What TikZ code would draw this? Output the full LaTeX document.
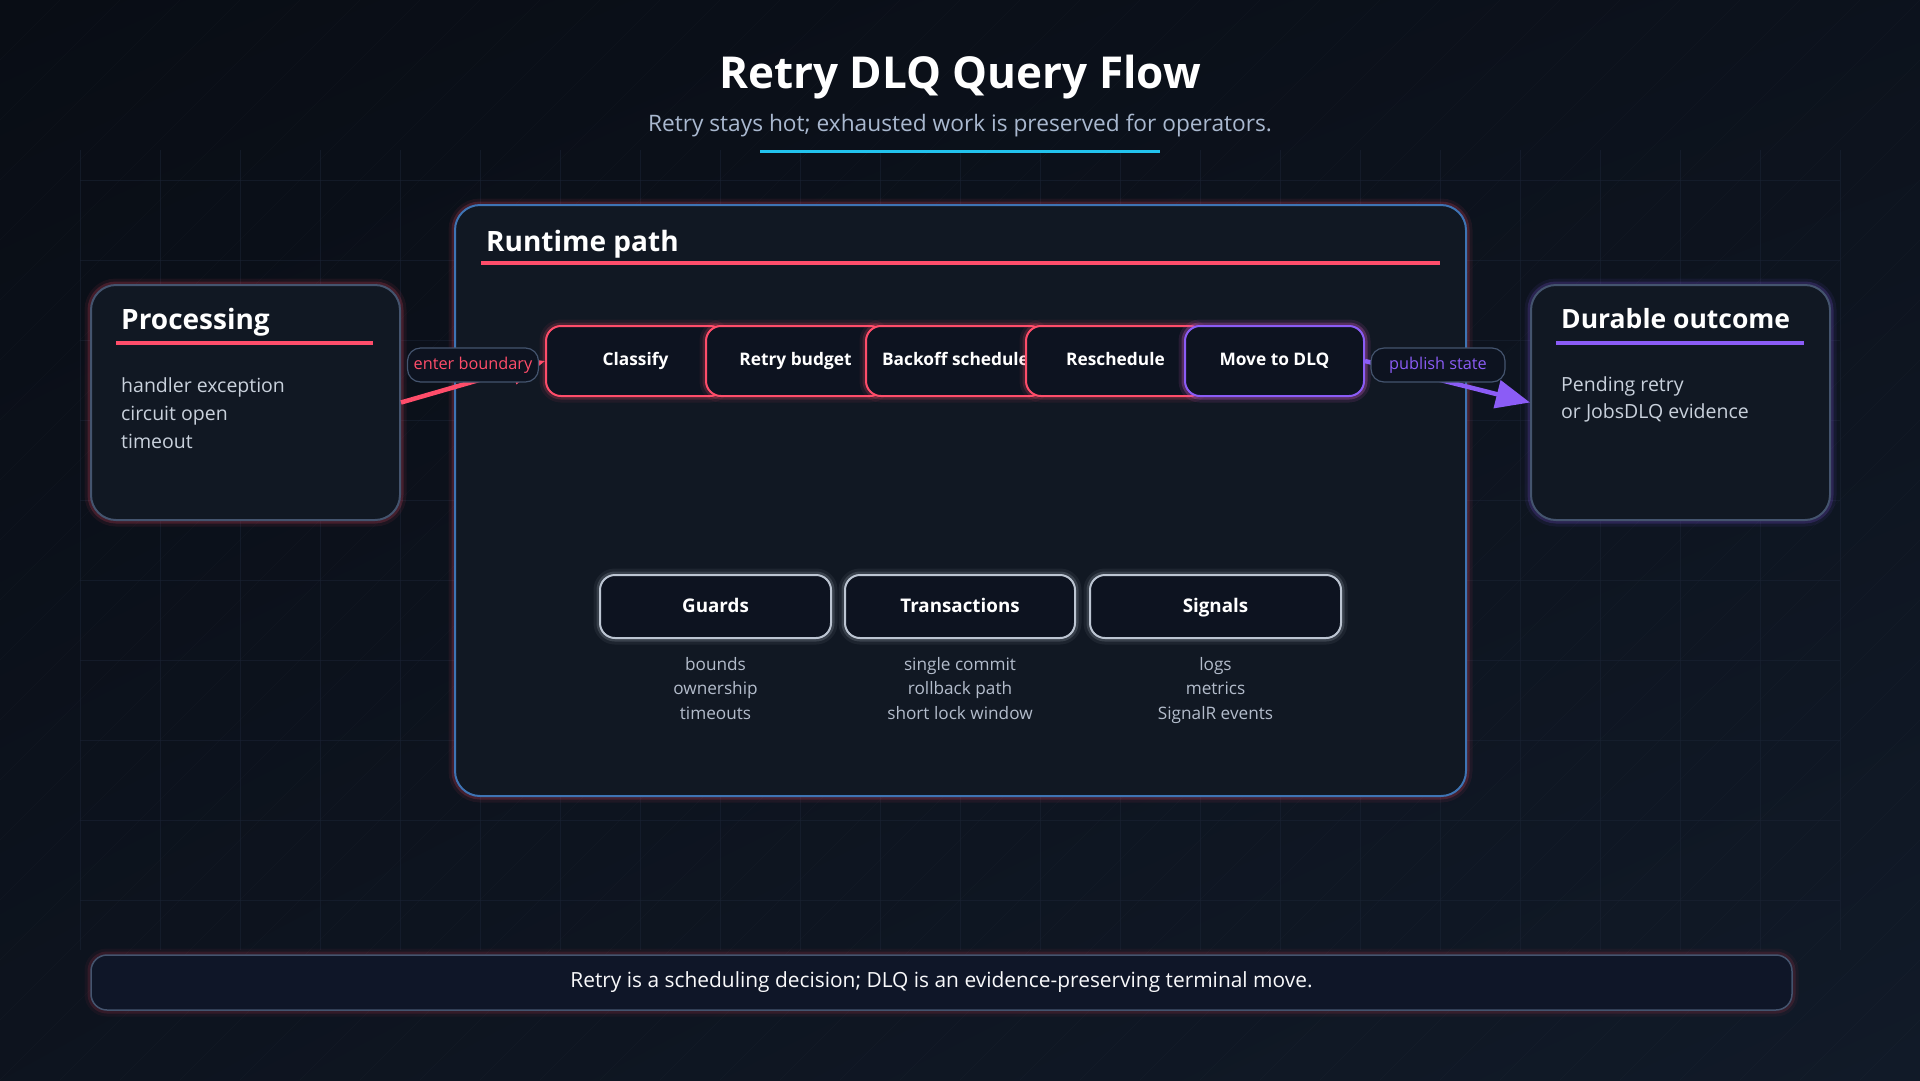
\documentclass[tikz,border=0pt]{standalone}
\usepackage{fontspec}
\setmainfont{Open Sans}
\usetikzlibrary{arrows.meta,positioning,shadings}
\definecolor{bgA}{HTML}{090D15}
\definecolor{bgB}{HTML}{111A28}
\definecolor{panelfill}{HTML}{111823}
\definecolor{cardfill}{HTML}{0D1320}
\definecolor{footfill}{HTML}{0F1628}
\definecolor{hotred}{HTML}{FF4D6A}
\definecolor{dlqpurple}{HTML}{8B5CF6}
\definecolor{cyanline}{HTML}{22C3EE}
\definecolor{slate}{HTML}{44546E}
\definecolor{paneledge}{HTML}{3E74B4}
\definecolor{guardedge}{HTML}{BCC5D2}
\definecolor{bodytext}{HTML}{C9D1DC}
\definecolor{subtext}{HTML}{A9B8CF}
\definecolor{itemtext}{HTML}{B3BCCB}
\definecolor{gridcol}{HTML}{1B2435}
\def\bgrect{(0,0) rectangle (1920,1080)}
\def\fsz#1{\fontsize{#1}{#1}\selectfont}

\begin{document}
\begin{tikzpicture}[x=1pt, y=-1pt,
    glow/.style={preaction={draw=#1, line width=13pt, draw opacity=0.07},
                 preaction={draw=#1, line width=7pt, draw opacity=0.18}},
    cardbox/.style={draw=slate, line width=2pt, fill=panelfill, rounded corners=25pt,
                    minimum width=#1, minimum height=235pt},
    cardtitle/.style={anchor=west, inner sep=0pt, text=white, font=\fsz{28}\bfseries},
    cardbody/.style={anchor=north west, inner sep=0pt, align=left, text=bodytext,
                     font=\fontsize{19.5}{28}\selectfont},
    stagebox/.style={draw=hotred, line width=2pt, fill=cardfill, rounded corners=15pt,
                     minimum width=179pt, minimum height=70pt, text=white,
                     text height=13pt, text depth=3.5pt,
                     font=\fsz{17.3}\bfseries, glow=hotred},
    guardbox/.style={draw=guardedge, line width=2pt, fill=cardfill, rounded corners=15pt,
                     minimum width=#1, minimum height=63pt, text=white,
                     text height=14pt, text depth=3pt,
                     font=\fsz{18.8}\bfseries, glow=guardedge},
    itemlist/.style={align=center, text=itemtext, inner sep=0pt,
                     font=\fontsize{17.2}{24.5}\selectfont},
    pill/.style={draw=slate, line width=1.2pt, fill=cardfill, rounded corners=13pt,
                 minimum height=34pt, inner xsep=4pt, font=\fsz{16.3}},
    underline/.style={line width=4pt, #1},
    flowarrow/.style={line width=4.5pt, #1, -{Triangle[length=34pt, width=28pt]}}]

  % background, grid and faint stripes
  \shade[upper left=bgA, upper right=bgA!60!bgB, lower left=bgA!50!bgB, lower right=bgB] \bgrect;
  \begin{scope}
    \clip \bgrect;
    \foreach \d in {-1080,-1020,...,1920}
      \draw[white, opacity=0.02, line width=1pt] (\d,1080) -- ++(1080,-1080);
  \end{scope}
  \foreach \gx in {80,160,...,1840}
    \draw[gridcol, opacity=0.55, line width=1pt] (\gx,150) -- (\gx,950);
  \foreach \gy in {180,260,...,900}
    \draw[gridcol, opacity=0.55, line width=1pt] (80,\gy) -- (1840,\gy);

  % heading
  \node[text=white, font=\fsz{44}\bfseries] (title) at (960,77) {Retry DLQ Query Flow};
  \node[text=subtext, font=\fsz{22.7}] (subtitle) at (960,126)
    {Retry stays hot; exhausted work is preserved for operators.};
  \draw[cyanline, line width=3pt] (760,151) -- (1160,151);

  % runtime panel
  \node[draw=paneledge, line width=2pt, fill=panelfill, rounded corners=25pt, glow=hotred,
        minimum width=1011pt, minimum height=591pt] (runtime) at (960.5,500.5) {};
  \node[cardtitle] (runtimetitle) at (486,244) {Runtime path};
  \draw[underline=hotred] (481,263) -- (1440,263);

  % side cards
  \node[cardbox=309pt, glow=hotred] (proc) at (245.5,402.5) {};
  \node[cardtitle] (proctitle) at (121,322) {Processing};
  \draw[underline=hotred] (116,343) -- (373,343);
  \node[cardbody] (procbody) at (121,377) {handler exception\\circuit open\\timeout};

  \node[cardbox=299pt, glow=dlqpurple] (durable) at (1680.5,402.5) {};
  \node[cardtitle, font=\fsz{26.5}\bfseries] (durabletitle) at (1561,319) {Durable outcome};
  \draw[underline=dlqpurple] (1556,343) -- (1804,343);
  \node[cardbody, font=\fontsize{19.5}{27}\selectfont] (durablebody) at (1561,376)
    {Pending retry\\or JobsDLQ evidence};

  % stage chain
  \node[stagebox] (classify) at (635.5,361) {Classify};
  \node[stagebox] (budget) at (795.5,361) {Retry budget};
  \node[stagebox] (backoff) at (955.5,361) {Backoff schedule};
  \node[stagebox] (resched) at (1115.5,361) {Reschedule};
  \node[stagebox, draw=dlqpurple, glow=dlqpurple] (todlq) at (1274.5,361) {Move to DLQ};

  % flow in and out
  \draw[flowarrow=hotred] (proc.east) -- (classify.west);
  \draw[flowarrow=dlqpurple] (todlq.east) -- (durable.west);
  \node[pill, text=hotred, minimum width=131pt] (enter) at (473,365) {enter boundary};
  \node[pill, text=dlqpurple, minimum width=134pt] (publish) at (1438,365) {publish state};

  % guards, transactions, signals
  \node[guardbox=231pt] (guards) at (715.5,606.5) {Guards};
  \node[guardbox=230pt] (trans) at (960,606.5) {Transactions};
  \node[guardbox=251pt] (signals) at (1215.5,606.5) {Signals};
  \node[itemlist, below=18pt of guards] (guarditems) {bounds\\ownership\\timeouts};
  \node[itemlist, below=18pt of trans] (transitems) {single commit\\rollback path\\short lock window};
  \node[itemlist, below=18pt of signals] (signalitems) {logs\\metrics\\SignalR events};

  % footer note
  \node[draw=slate, line width=1.5pt, fill=footfill, rounded corners=16pt, glow=hotred!70!black,
        minimum width=1701pt, minimum height=55pt, text=white!88!bodytext, font=\fsz{20.9}]
    (footer) at (941.5,982.5)
    {Retry is a scheduling decision; DLQ is an evidence-preserving terminal move.};
\end{tikzpicture}
\end{document}
